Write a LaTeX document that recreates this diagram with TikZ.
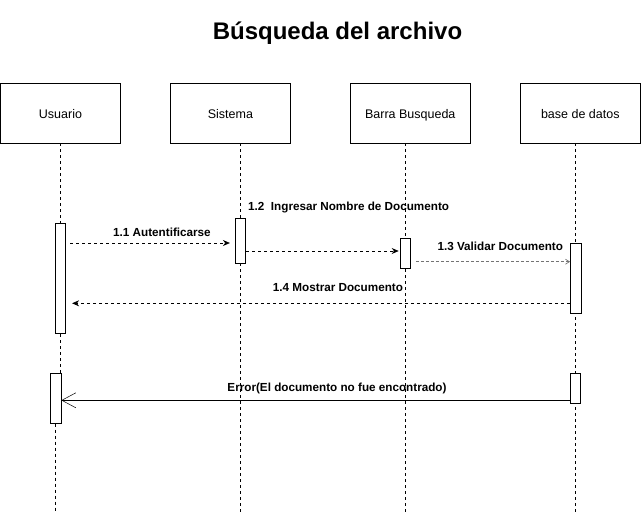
\documentclass[tikz,border=0pt]{standalone}
\usepackage{fontspec}
\setmainfont{Liberation Sans}
\usetikzlibrary{arrows.meta}

\begin{document}
\begin{tikzpicture}[x=1pt,y=-1pt,
    obj/.style={draw, line width=0.8pt, minimum width=120pt, minimum height=60pt, inner sep=0pt, text height=10pt, text depth=0pt, font=\fontsize{12.5}{15}\selectfont},
    act/.style={draw, fill=white, line width=0.8pt, minimum width=10.4pt, inner sep=0pt},
    life/.style={line width=0.7pt, dash pattern=on 3pt off 3pt},
    msg/.style={line width=0.7pt, dash pattern=on 3pt off 3pt, -{Stealth[length=7pt,width=6pt]}},
    lbl/.style={inner sep=0pt, font=\fontsize{11.7}{14}\selectfont\bfseries}]
    \useasboundingbox (0,0) rectangle (641,515);

    \node[inner sep=0pt, font=\fontsize{24}{28}\selectfont\bfseries] (titulo) at (337.5,33) {Búsqueda del archivo};

    % objetos
    \node[obj] (usuario) at (60.5,113) {Usuario};
    \node[obj] (sistema) at (230.4,113) {Sistema};
    \node[obj] (barra) at (410.3,113) {Barra Busqueda};
    \node[obj] (base) at (580.3,113) {base de datos};

    % lineas de vida
    \coordinate (finsis) at (240.4,513);
    \coordinate (finbar) at (405.3,513);
    \coordinate (finbase) at (575.6,513);
    \coordinate (finusu) at (55.7,513);
    \draw[life] (sistema.south -| finsis) -- (finsis);
    \draw[life] (barra.south -| finbar) -- (finbar);
    \draw[life] (base.south -| finbase) -- (finbase);

    % activaciones
    \node[act, minimum height=110.4pt] (actusu) at (60.5,278.5) {};
    \node[act, minimum height=45pt] (actsis) at (240.5,240.8) {};
    \node[act, minimum height=30pt] (actbar) at (405.3,253.3) {};
    \node[act, minimum height=70pt] (actbase) at (575.7,278.3) {};
    \node[act, minimum height=50pt] (errusu) at (55.7,398.3) {};
    \node[act, minimum height=30pt] (errbase) at (575.4,388.3) {};

    \draw[life] (usuario.south) -- (actusu.north);
    \draw[life] (actusu.south) -- (actusu.south |- errusu.north);
    \draw[life] (errusu.south) -- (finusu);

    % mensajes
    \coordinate (m1) at (0,243);
    \coordinate (m2) at (0,251);
    \coordinate (m3) at (0,261.7);
    \coordinate (m4) at (0,303.3);
    \coordinate (m5) at (0,400.3);

    \draw[msg] ([xshift=4pt]actusu.east |- m1) -- ([xshift=-5pt]actsis.west |- m1);
    \draw[msg] (actsis.east |- m2) -- ([xshift=-1pt]actbar.west |- m2);
    \draw[line width=0.7pt, black!55, dash pattern=on 3pt off 2pt, -{Straight Barb[length=4pt,width=5pt]}] ([xshift=5pt]actbar.east |- m3) -- (actbase.west |- m3);
    \draw[msg] (actbase.west |- m4) -- ([xshift=6pt]actusu.east |- m4);
    \draw[line width=0.8pt, -{Straight Barb[length=14pt,width=15pt,line width=0.5pt]}] (errbase.west |- m5) -- (errusu.east |- m5);

    \node[lbl] (l1) at (162,232.6) {1.1 Autentificarse};
    \node[lbl, anchor=west] (l2) at (248,207.7) {1.2\ \ Ingresar Nombre de Documento};
    \node[lbl] (l3) at (500.3,246.7) {1.3 Validar Documento};
    \node[lbl] (l4) at (338,287.7) {1.4 Mostrar Documento};
    \node[lbl] (l5) at (337,388) {Error(El documento no fue encontrado)};

\end{tikzpicture}
\end{document}
